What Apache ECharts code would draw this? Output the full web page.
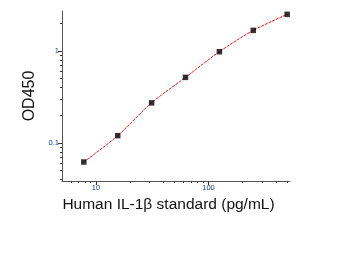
<!DOCTYPE html>
<html><head><meta charset="utf-8">
<script src="https://cdn.jsdelivr.net/npm/echarts@6/dist/echarts.min.js"></script>
<style>html,body{margin:0;padding:0;background:#fff}#c{width:348px;height:256px}</style>
</head><body><div id="c"></div>
<script>
const concentrations = [7.8125, 15.625, 31.25, 62.5, 125, 250, 500];
const od450 = [0.062, 0.120, 0.273, 0.517, 0.983, 1.68, 2.51];
const xMajorTicks = [10, 100];
const xMinorTicks = [6, 7, 8, 9, 20, 30, 40, 50, 60, 70, 80, 90, 200, 300, 400, 500];
const yMajorTicks = [0.1, 1];
const yMinorTicks = [0.04, 0.05, 0.06, 0.07, 0.08, 0.09, 0.2, 0.3, 0.4, 0.5, 0.6, 0.7, 0.8, 0.9, 2];
const xTitle = 'Human IL-1β standard (pg/mL)';
const yTitle = 'OD450';

const points = concentrations.map((c, i) => [c, od450[i]]);
const X_MIN = 5, X_MAX = 530, Y_MIN = 0.0385, Y_MAX = 2.73;
const labelColor = '#1c3a8c';
const axisColor = '#555';

const chart = echarts.init(document.getElementById('c'), null, {renderer: 'canvas'});
chart.setOption({
  animation: false,
  backgroundColor: '#fff',
  grid: {left: 62, right: 58, top: 11, bottom: 75, containLabel: false},
  xAxis: [
    {
      type: 'log', logBase: 10, min: X_MIN, max: X_MAX,
      name: xTitle, nameLocation: 'middle', nameGap: 14,
      nameTextStyle: {fontFamily: 'Liberation Sans', fontSize: 15.5, color: '#111', padding: [0, 15, 0, 0]},
      axisLine: {show: true, lineStyle: {color: axisColor, width: 1}},
      axisTick: {show: true, inside: false, length: 4, customValues: xMajorTicks, lineStyle: {color: '#333'}},
      axisLabel: {show: true, customValues: xMajorTicks, fontFamily: 'Liberation Sans', fontSize: 7.5, color: labelColor, margin: 3},
      splitLine: {show: false}
    },
    {
      type: 'log', logBase: 10, min: X_MIN, max: X_MAX, gridIndex: 0, position: 'bottom',
      axisLine: {show: false},
      axisTick: {show: true, inside: false, length: 2, customValues: xMinorTicks, lineStyle: {color: '#333'}},
      axisLabel: {show: false},
      splitLine: {show: false}
    }
  ],
  yAxis: [
    {
      type: 'log', logBase: 10, min: Y_MIN, max: Y_MAX,
      name: yTitle, nameLocation: 'middle', nameGap: 22, nameRotate: 90,
      nameTextStyle: {fontFamily: 'Liberation Sans', fontSize: 16, color: '#111'},
      axisLine: {show: true, lineStyle: {color: axisColor, width: 1}},
      axisTick: {show: true, inside: false, length: 4, customValues: yMajorTicks, lineStyle: {color: '#333'}},
      axisLabel: {show: true, customValues: yMajorTicks, fontFamily: 'Liberation Sans', fontSize: 7.5, color: labelColor, margin: 3},
      splitLine: {show: false}
    },
    {
      type: 'log', logBase: 10, min: Y_MIN, max: Y_MAX, gridIndex: 0, position: 'left',
      axisLine: {show: false},
      axisTick: {show: true, inside: false, length: 2, customValues: yMinorTicks, lineStyle: {color: '#333'}},
      axisLabel: {show: false},
      splitLine: {show: false}
    }
  ],
  series: [
    {
      type: 'line', data: points, xAxisIndex: 0, yAxisIndex: 0,
      smooth: 0.3, showSymbol: false, symbol: 'none',
      lineStyle: {color: '#ff1010', width: 1, type: [3, 1]},
      z: 2
    },
    {
      type: 'scatter', data: points, xAxisIndex: 0, yAxisIndex: 0,
      symbol: 'rect', symbolSize: 5.5,
      itemStyle: {color: '#000'},
      z: 3
    }
  ]
});
</script></body></html>
